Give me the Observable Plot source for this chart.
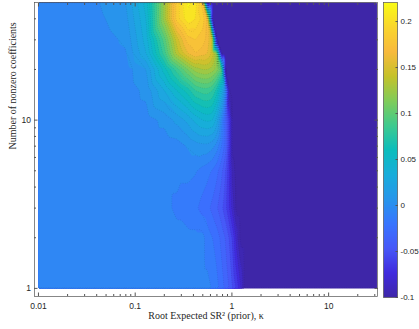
<!DOCTYPE html>
<html>
<head>
<meta charset="utf-8">
<script src="https://cdn.jsdelivr.net/npm/d3@7"></script>
<script src="https://cdn.jsdelivr.net/npm/@observablehq/plot@0.6"></script>
<style>
  html, body { margin: 0; padding: 0; background: #fff; }
  #chart { position: relative; width: 419px; height: 329px; }
  #chart > svg { position: absolute; top: 0; }
</style>
</head>
<body>
<div id="chart"></div>
<script>
// Grid of the surface: root expected SR² (κ) along x, number of nonzero coefficients along y
const kappa = [0.01, 0.04, 0.08, 0.13, 0.2, 0.27, 0.35, 0.42, 0.5, 0.56, 0.63, 0.7, 0.78, 0.86, 0.94, 1.02, 1.12, 1.24, 1.36, 31.6];
const nCoef = [1, 2, 3, 5, 7, 10, 15, 20, 25, 30, 40, 50];

// One row per entry of nCoef, one value per entry of kappa
const values = [
  [-0.002, -0.002, -0.002, -0.002, -0.002, -0.002, -0.002, -0.002, -0.002, -0.002, -0.006, -0.012, -0.02, -0.028, -0.036, -0.046, -0.058, -0.075, -0.1, -0.1],
  [-0.002, -0.002, -0.002, -0.002, -0.002, -0.002, -0.002, -0.002, -0.002, -0.01, -0.015, -0.02, -0.028, -0.036, -0.046, -0.058, -0.08, -0.1, -0.1, -0.1],
  [-0.002, -0.002, -0.002, -0.002, -0.002, -0.007, -0.011, -0.013, -0.019, -0.022, -0.028, -0.034, -0.042, -0.052, -0.065, -0.08, -0.1, -0.1, -0.1, -0.1],
  [-0.002, -0.002, -0.002, -0.002, -0.002, -0.002, -0.002, -0.004, -0.009, -0.012, -0.016, -0.022, -0.032, -0.045, -0.065, -0.09, -0.1, -0.1, -0.1, -0.1],
  [-0.002, -0.002, -0.002, -0.002, -0.002, 0.0, 0.006, 0.01, 0.012, 0.012, 0.008, 0.0, -0.015, -0.03, -0.06, -0.1, -0.1, -0.1, -0.1, -0.1],
  [-0.002, -0.002, -0.002, 0.0, 0.008, 0.018, 0.028, 0.038, 0.045, 0.047, 0.045, 0.03, 0.0, -0.03, -0.06, -0.1, -0.1, -0.1, -0.1, -0.1],
  [-0.002, -0.002, -0.001, 0.008, 0.035, 0.055, 0.07, 0.085, 0.09, 0.09, 0.085, 0.07, 0.04, 0.0, -0.1, -0.1, -0.1, -0.1, -0.1, -0.1],
  [-0.002, -0.002, 0.0, 0.015, 0.06, 0.09, 0.115, 0.13, 0.135, 0.135, 0.13, 0.12, 0.1, -0.1, -0.1, -0.1, -0.1, -0.1, -0.1, -0.1],
  [-0.002, -0.001, 0.004, 0.035, 0.09, 0.14, 0.165, 0.175, 0.17, 0.165, 0.15, 0.12, -0.1, -0.1, -0.1, -0.1, -0.1, -0.1, -0.1, -0.1],
  [-0.002, -0.001, 0.007, 0.04, 0.1, 0.15, 0.18, 0.185, 0.18, 0.17, 0.15, -0.1, -0.1, -0.1, -0.1, -0.1, -0.1, -0.1, -0.1, -0.1],
  [-0.002, 0.002, 0.012, 0.045, 0.13, 0.19, 0.212, 0.205, 0.19, 0.17, -0.1, -0.1, -0.1, -0.1, -0.1, -0.1, -0.1, -0.1, -0.1, -0.1],
  [-0.002, 0.004, 0.015, 0.05, 0.13, 0.19, 0.218, 0.21, 0.18, -0.1, -0.1, -0.1, -0.1, -0.1, -0.1, -0.1, -0.1, -0.1, -0.1, -0.1]
];

// Axis limits and ticks
const xLimits = [0.0091, 32];
const yLimits = [0.895, 50];
const colorLimits = [-0.1, 0.2207];
const xMajor = [0.01, 0.1, 1, 10];
const xMinor = [0.02, 0.03, 0.04, 0.05, 0.06, 0.07, 0.08, 0.09, 0.2, 0.3, 0.4, 0.5, 0.6, 0.7, 0.8, 0.9, 2, 3, 4, 5, 6, 7, 8, 9, 20, 30];
const yMajor = [1, 10];
const yMinor = [2, 3, 4, 5, 6, 7, 8, 9, 20, 30, 40];
const cbTicks = [-0.1, -0.05, 0, 0.05, 0.1, 0.15, 0.2];
const cbLabels = ["-0.1", "-0.05", "0", "0.05", "0.1", "0.15", "0.2"];
const xTitle = "Root Expected SR\u00B2 (prior), \u03BA";
const yTitle = "Number of nonzero coefficients";

// Parula colour map
const parula = ["#3e26a8", "#402bde", "#4758f8", "#3875ff", "#2796eb", "#18addb", "#0bbdbc", "#3fca8e", "#81cc59", "#c5c22a", "#f8ba3d", "#f9d62d", "#f9fb15"];
const parulaInterp = d3.piecewise(d3.interpolateRgb, parula);

// Filled contour levels every 0.01
const levels = [-0.1001, ...d3.range(-9.5, 22, 1).map(d => d / 100)];
const lineLevels = levels.slice(1);

const samples = nCoef.flatMap((n, i) => kappa.map((k, j) => ({k, n, v: values[i][j]})));

// Clip a mark to the sampled region
function clipToData(index, scales, vals, dimensions, context, next) {
  const g = next(index, scales, vals, dimensions, context);
  const doc = context.document;
  const ns = "http://www.w3.org/2000/svg";
  const xa = scales.x(kappa[0]), xb = scales.x(kappa[kappa.length - 1]);
  const ya = scales.y(nCoef[nCoef.length - 1]), yb = scales.y(nCoef[0]);
  const wrap = doc.createElementNS(ns, "g");
  const cp = doc.createElementNS(ns, "clipPath");
  cp.setAttribute("id", "surface-clip");
  const r = doc.createElementNS(ns, "rect");
  r.setAttribute("x", Math.min(xa, xb));
  r.setAttribute("y", Math.min(ya, yb));
  r.setAttribute("width", Math.abs(xb - xa));
  r.setAttribute("height", Math.abs(yb - ya));
  cp.appendChild(r);
  wrap.appendChild(cp);
  g.setAttribute("clip-path", "url(#surface-clip)");
  wrap.appendChild(g);
  return wrap;
}

const axisColor = "#555";
const tickFont = "'Liberation Sans', Arial, Helvetica, sans-serif";
const titleFont = "'Liberation Serif', 'Times New Roman', serif";

const main = Plot.plot({
  width: 419,
  height: 329,
  marginLeft: 34,
  marginRight: 42,
  marginTop: 2,
  marginBottom: 33,
  style: {fontFamily: tickFont, fontSize: "8.5px", color: "#262626", background: "transparent"},
  x: {type: "log", domain: xLimits},
  y: {type: "log", domain: yLimits},
  color: {type: "linear", domain: colorLimits, interpolate: parulaInterp, clamp: true},
  marks: [
    Plot.contour(samples, {
      x: "k", y: "n", fill: "v", thresholds: levels, interpolate: "barycentric",
      x1: kappa[0], x2: kappa[kappa.length - 1], y1: nCoef[0], y2: nCoef[nCoef.length - 1],
      stroke: "none"
    }),
    Plot.contour(samples, {
      x: "k", y: "n", value: "v", thresholds: lineLevels, interpolate: "barycentric",
      x1: kappa[0] / 2, x2: kappa[kappa.length - 1] * 2, y1: nCoef[0] * 0.8, y2: nCoef[nCoef.length - 1] * 1.4,
      fill: "none", stroke: "#000", strokeOpacity: 0.2, strokeWidth: 0.55, strokeDasharray: "0.7,1.6",
      render: clipToData
    }),
    Plot.frame({stroke: axisColor, strokeWidth: 0.7}),
    Plot.axisX(xMajor, {anchor: "bottom", tickSize: -3.5, tickPadding: 9.5, stroke: axisColor, tickFormat: d3.format("~g"), label: null}),
    Plot.axisX(xMinor, {anchor: "bottom", tickSize: -2, tickFormat: () => "", stroke: axisColor, label: null}),
    Plot.axisX(xMajor, {anchor: "top", tickSize: -3.5, tickFormat: () => "", stroke: axisColor, label: null}),
    Plot.axisX(xMinor, {anchor: "top", tickSize: -2, tickFormat: () => "", stroke: axisColor, label: null}),
    Plot.axisY(yMajor, {anchor: "left", tickSize: -3.5, tickPadding: 7, stroke: axisColor, tickFormat: d3.format("~g"), label: null}),
    Plot.axisY(yMinor, {anchor: "left", tickSize: -2, tickFormat: () => "", stroke: axisColor, label: null}),
    Plot.axisY(yMajor, {anchor: "right", tickSize: -3.5, tickFormat: () => "", stroke: axisColor, label: null}),
    Plot.axisY(yMinor, {anchor: "right", tickSize: -2, tickFormat: () => "", stroke: axisColor, label: null}),
    Plot.text([xTitle], {text: d => d, frameAnchor: "bottom", dy: 22, fontFamily: titleFont, fontSize: 10, fill: "#262626"}),
    Plot.text([yTitle], {text: d => d, frameAnchor: "left", dx: -22, rotate: -90, fontFamily: titleFont, fontSize: 10, fill: "#262626"})
  ]
});
main.style.left = "0px";

const colorbar = Plot.plot({
  width: 36,
  height: 329,
  marginLeft: 0,
  marginRight: 22,
  marginTop: 2,
  marginBottom: 32,
  style: {fontFamily: tickFont, fontSize: "8px", color: "#262626", background: "transparent", overflow: "visible"},
  x: {domain: [0, 1], axis: null},
  y: {domain: colorLimits},
  color: {type: "linear", domain: colorLimits, interpolate: parulaInterp, clamp: true},
  marks: [
    Plot.raster({fill: (x, y) => y, x1: 0, x2: 1, y1: colorLimits[0], y2: colorLimits[1]}),
    Plot.frame({stroke: axisColor, strokeWidth: 0.7}),
    Plot.axisY(cbTicks, {anchor: "right", tickSize: -2.5, tickPadding: 5.5, stroke: axisColor, tickFormat: d => cbLabels[cbTicks.indexOf(d)], label: null})
  ]
});
colorbar.style.left = "383px";

const chart = document.getElementById("chart");
chart.appendChild(main);
chart.appendChild(colorbar);
</script>
</body>
</html>
